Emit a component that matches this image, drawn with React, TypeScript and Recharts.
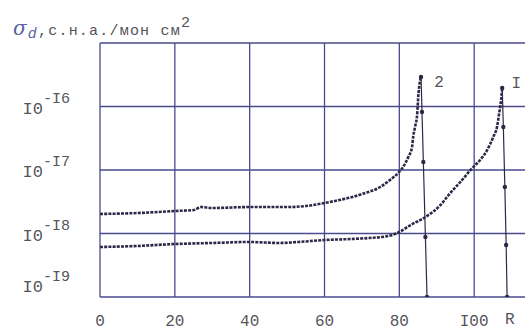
import React from "react";
import { LineChart, Line, XAxis, YAxis, CartesianGrid } from "recharts";

// R values (x) and cross sections (y, log scale)
const r2 = [0, 10, 20, 25, 27, 30, 40, 50, 55, 60, 64, 67.5, 70, 74.9, 77.5, 79.7, 81, 82.4, 83.4, 83.7, 84.2, 84.8, 85, 85.3, 85.8];
const v2 = [
  2.03e-18, 2.1e-18, 2.26e-18, 2.34e-18, 2.61e-18, 2.52e-18, 2.61e-18, 2.61e-18, 2.71e-18, 3.02e-18, 3.37e-18,
  3.76e-18, 4.19e-18, 5.4e-18, 6.97e-18, 8.97e-18, 1.115e-17, 1.6e-17, 2.3e-17, 3.31e-17, 4.76e-17, 7.9e-17,
  1.27e-16, 2.03e-16, 2.91e-16,
];
const r2Drop = [85.8, 86.06, 86.42, 86.97, 87.4];
const v2Drop = [2.91e-16, 8.19e-17, 1.34e-17, 8.81e-19, 1e-19];

const r1 = [0, 10, 20, 30, 40, 48, 53, 60, 67, 72, 77, 80, 83, 87, 91, 93.6, 96.3, 99.5, 101.6, 103.5, 105.1, 106.1, 106.7, 107.2, 107.5];
const v1 = [
  6.13e-19, 6.36e-19, 6.83e-19, 7.09e-19, 7.35e-19, 7.09e-19, 7.35e-19, 7.9e-19, 8.19e-19, 8.5e-19, 9.13e-19,
  1.056e-18, 1.36e-18, 1.82e-18, 2.81e-18, 4.34e-18, 6.47e-18, 1.075e-17, 1.437e-17, 2.07e-17, 3.31e-17, 4.76e-17,
  7.9e-17, 1.27e-16, 1.96e-16,
];
const r1Drop = [107.5, 107.8, 108.2, 108.55, 108.8];
const v1Drop = [1.96e-16, 4.76e-17, 5.4e-18, 6.59e-19, 1e-19];

const xTicks = [0, 20, 40, 60, 80, 100, 120];
const yTicks = [1e-19, 1e-18, 1e-17, 1e-16, 1e-15];

const zip = (rs: number[], vs: number[]) => rs.map((r, i) => ({ r, v: vs[i] }));
const curve2 = zip(r2, v2);
const curve2Drop = zip(r2Drop, v2Drop);
const curve1 = zip(r1, v1);
const curve1Drop = zip(r1Drop, v1Drop);

const FONT = '"Liberation Mono", "DejaVu Sans Mono", monospace';
const GRID = "#4a4a8c";
const INK = "#2e2848";
const TEXT = "#55555c";

const typeI = (s: string) => s.replace(/1/g, "I");

const YTick = (props: any) => {
  const { x, y, payload } = props;
  const exp = Math.round(Math.log10(payload.value));
  if (exp === -15) return null;
  const shift = exp === -19 ? -12 : 0;
  return (
    <text x={x} y={y + shift + 7} textAnchor="end" fill={TEXT} fontFamily={FONT} fontSize={17}>
      <tspan>I0</tspan>
      <tspan dy={-11} fontSize={15}>
        {"-" + typeI(String(-exp))}
      </tspan>
    </text>
  );
};

const peakLabel = (text: string, idx: number, dx: number, dy: number) => (props: any) => {
  const { x, y, index } = props;
  if (index !== idx) return null;
  return (
    <text x={x + dx} y={y + dy} fill={TEXT} fontFamily={FONT} fontSize={16} textAnchor="middle">
      {text}
    </text>
  );
};

export default function App() {
  return (
    <div
      style={{
        position: "fixed",
        left: 0,
        top: 0,
        width: 525,
        height: 332,
        overflow: "hidden",
        background: "#fff",
      }}
    >
      <div
        style={{
          position: "absolute",
          left: 13,
          top: 20,
          fontFamily: FONT,
          fontSize: 15,
          lineHeight: "16px",
          color: TEXT,
          whiteSpace: "nowrap",
          letterSpacing: 1.2,
        }}
      >
        <span style={{ color: "#5a63a8", fontStyle: "italic", fontSize: 20, fontFamily: "DejaVu Serif" }}>σ</span>
        <span style={{ color: "#5a63a8", fontStyle: "italic", fontSize: 15, position: "relative", top: 3 }}>d</span>
        <span>,с.н.а./мон см</span>
        <span style={{ fontSize: 15, position: "relative", top: -8 }}>2</span>
      </div>
      <div
        style={{
          position: "absolute",
          left: 505,
          top: 312,
          fontFamily: FONT,
          fontSize: 16,
          lineHeight: "16px",
          color: TEXT,
        }}
      >
        R
      </div>
      <LineChart width={549} height={332} margin={{ top: 43, right: 0, bottom: 0, left: 0 }}>
        <CartesianGrid stroke={GRID} strokeWidth={1.3} />
        <XAxis
          type="number"
          dataKey="r"
          domain={[0, 120]}
          ticks={xTicks}
          height={35}
          axisLine={false}
          tickLine={false}
          tickSize={0}
          tickMargin={18}
          tickFormatter={(v: number) => (v === 120 ? "" : typeI(String(v)))}
          tick={{ fill: TEXT, fontFamily: FONT, fontSize: 16 }}
          allowDataOverflow
        />
        <YAxis
          scale="log"
          domain={[1e-19, 1e-15]}
          ticks={yTicks}
          width={100}
          axisLine={false}
          tickLine={false}
          tickSize={0}
          tickMargin={30}
          tick={<YTick />}
          allowDataOverflow
        />
        <Line
          data={curve2}
          dataKey="v"
          type="monotone"
          stroke={INK}
          strokeWidth={2.6}
          strokeDasharray="3 1.2"
          dot={false}
          isAnimationActive={false}
          label={peakLabel("2", curve2.length - 1, 18, 10)}
        />
        <Line
          data={curve2Drop}
          dataKey="v"
          type="linear"
          stroke={INK}
          strokeWidth={1.2}
          dot={{ r: 1.6, fill: INK, stroke: INK }}
          isAnimationActive={false}
        />
        <Line
          data={curve1}
          dataKey="v"
          type="monotone"
          stroke={INK}
          strokeWidth={2.6}
          strokeDasharray="3 1.2"
          dot={false}
          isAnimationActive={false}
          label={peakLabel("I", curve1.length - 1, 14, 0)}
        />
        <Line
          data={curve1Drop}
          dataKey="v"
          type="linear"
          stroke={INK}
          strokeWidth={1.2}
          dot={{ r: 1.6, fill: INK, stroke: INK }}
          isAnimationActive={false}
        />
      </LineChart>
    </div>
  );
}
